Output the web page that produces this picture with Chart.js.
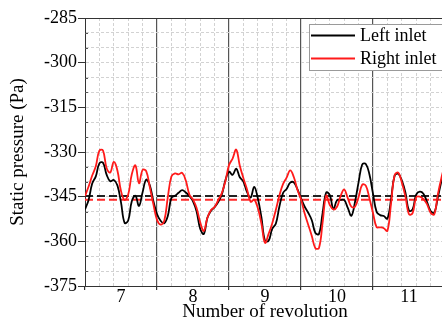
<!DOCTYPE html>
<html>
<head>
<meta charset="utf-8">
<script src="https://cdn.jsdelivr.net/npm/chart.js@4.4.1/dist/chart.umd.min.js"></script>
<style>
  html, body { margin: 0; padding: 0; background: #fff; overflow: hidden; }
  #wrap { width: 447px; height: 324px; }
</style>
</head>
<body>
<div id="wrap"><canvas id="c" width="447" height="324"></canvas></div>
<script>
// Static pressure at the two inlets, sampled every 0.05 revolution (6.5 .. 11.5)
const revolutions = Array.from({ length: 101 }, (_, i) => +(6.5 + 0.05 * i).toFixed(2));

const leftInlet = [
  -349.3, -346.1, -340.6, -338.2, -333.8, -333.6, -337.6, -339.8, -339.4, -341.2,
  -346.9, -353.8, -353.0, -346.5, -344.7, -348.1, -343.5, -339.3, -341.2, -346.5,
  -350.8, -353.1, -353.9, -351.5, -345.4, -344.7, -343.7, -342.8, -343.6, -344.8,
  -346.6, -350.0, -355.8, -357.5, -352.1, -349.7, -348.5, -346.8, -344.3, -339.5,
  -336.6, -337.7, -335.6, -338.5, -339.9, -343.4, -345.3, -341.7, -345.5, -351.9,
  -359.8, -359.8, -355.8, -354.1, -348.3, -343.8, -342.4, -340.3, -340.2, -342.5,
  -345.6, -348.3, -350.4, -352.9, -357.2, -357.5, -350.5, -343.6, -344.5, -349.2,
  -346.2, -346.1, -346.1, -348.8, -351.4, -346.8, -340.1, -334.2, -334.0, -337.5,
  -344.0, -350.1, -351.2, -351.5, -352.4, -346.0, -338.0, -337.3, -339.5, -343.6,
  -349.7, -349.3, -344.3, -343.3, -344.0, -346.7, -349.8, -350.4, -345.3, -339.8,
  -335.0
];

const rightInlet = [
  -344.8, -341.6, -337.9, -334.8, -329.5, -329.5, -335.4, -336.9, -333.3, -336.2,
  -343.1, -346.1, -344.3, -337.5, -334.5, -340.5, -336.0, -336.4, -341.8, -347.6,
  -352.8, -354.4, -353.2, -345.2, -338.2, -337.2, -337.5, -337.0, -339.6, -344.3,
  -346.0, -348.8, -353.6, -356.5, -352.1, -349.5, -348.5, -346.2, -343.8, -339.8,
  -334.4, -332.2, -329.2, -334.6, -338.8, -342.5, -346.7, -346.0, -348.8, -354.0,
  -360.5, -357.5, -354.0, -349.5, -344.6, -340.8, -338.6, -336.2, -338.4, -342.7,
  -345.9, -350.6, -354.4, -358.2, -362.3, -362.2, -353.7, -344.6, -347.8, -349.3,
  -348.4, -344.8, -342.6, -345.5, -348.4, -348.4, -345.1, -341.0, -341.3, -345.5,
  -350.5, -355.2, -355.3, -355.6, -356.5, -347.4, -337.8, -336.9, -340.2, -344.9,
  -350.9, -350.5, -345.2, -345.0, -345.8, -347.5, -350.4, -351.0, -344.3, -338.7,
  -334.0
];

// Time-averaged pressure of each inlet
const leftMean = -344.8;
const rightMean = -346.0;

const revolutionLabels = ['7', '8', '9', '10', '11'];
const pressureTicks = [-375, -360, -345, -330, -315, -300, -285];

const X_MIN = 6.5, X_MAX = 11.5, Y_MIN = -375, Y_MAX = -285;
const SERIF = "'Liberation Serif', 'Times New Roman', serif";
const AXIS = '#333333';
const GRID = '#d2d2d2';
const NONE = 'rgba(0,0,0,0)';

const toPoints = (ys) => revolutions.map((x, i) => ({ x, y: ys[i] }));
const flat = (y) => [{ x: X_MIN, y }, { x: X_MAX, y }];

// Frame, minor inward y ticks and the boxed legend
const decorations = {
  id: 'decorations',
  afterDraw(chart) {
    const { ctx, chartArea: a, scales } = chart;
    const ys = scales.y;
    ctx.save();
    ctx.strokeStyle = AXIS;
    ctx.lineWidth = 1;
    ctx.beginPath();
    ctx.moveTo(a.left, a.top + 0.5);
    ctx.lineTo(a.right, a.top + 0.5);
    ctx.moveTo(a.right - 0.5, a.top);
    ctx.lineTo(a.right - 0.5, a.bottom);
    ctx.stroke();

    // short inward marks at the unlabelled 5 Pa steps
    ctx.strokeStyle = '#555555';
    ctx.beginPath();
    for (let v = Y_MIN + 5; v < Y_MAX; v += 5) {
      if (pressureTicks.includes(v)) continue;
      const py = Math.round(ys.getPixelForValue(v)) + 0.5;
      ctx.moveTo(a.left, py);
      ctx.lineTo(a.left + 3, py);
    }
    ctx.stroke();

    // legend
    const bx = 309.5, by = 24.5, bw = 135, bh = 46;
    ctx.fillStyle = '#ffffff';
    ctx.fillRect(bx, by, bw, bh);
    ctx.strokeStyle = '#9a9a9a';
    ctx.lineWidth = 1;
    ctx.strokeRect(bx, by, bw, bh);
    ctx.font = '18px ' + SERIF;
    ctx.textBaseline = 'middle';
    ctx.textAlign = 'left';
    [0, 1].forEach((di, row) => {
      const ds = chart.data.datasets[di];
      const ly = 35.5 + row * 23;
      ctx.strokeStyle = ds.borderColor;
      ctx.lineWidth = 1.8;
      ctx.beginPath();
      ctx.moveTo(311, ly);
      ctx.lineTo(355, ly);
      ctx.stroke();
      ctx.fillStyle = '#000';
      ctx.fillText(ds.label, 360, ly + 1);
    });
    ctx.restore();
  }
};

new Chart(document.getElementById('c'), {
  type: 'line',
  data: {
    datasets: [
      { label: 'Left inlet', data: toPoints(leftInlet), borderColor: '#000000',
        borderWidth: 1.8, pointRadius: 0, tension: 0.4, order: 1 },
      { label: 'Right inlet', data: toPoints(rightInlet), borderColor: '#ff1a1a',
        borderWidth: 1.8, pointRadius: 0, tension: 0.4, order: 0 },
      { label: 'Left mean', data: flat(leftMean), borderColor: '#222222',
        borderWidth: 2, borderDash: [8, 4], pointRadius: 0, order: 2 },
      { label: 'Right mean', data: flat(rightMean), borderColor: '#ff2a2a',
        borderWidth: 2, borderDash: [8, 4], pointRadius: 0, order: 2 }
    ]
  },
  options: {
    responsive: false,
    animation: false,
    layout: { padding: { top: 18, right: 2, left: 0, bottom: 0 } },
    plugins: { legend: { display: false }, tooltip: { enabled: false } },
    scales: {
      x: {
        type: 'linear',
        min: X_MIN,
        max: X_MAX,
        afterBuildTicks(scale) {
          const t = [];
          for (let n = 65; n <= 115; n++) t.push({ value: n / 10 });
          scale.ticks = t;
        },
        afterFit(scale) { scale.height = 38; },
        ticks: {
          autoSkip: false,
          maxRotation: 0,
          padding: -2,
          color: '#000',
          font: { family: SERIF, size: 18, lineHeight: 1 },
          callback(v) {
            const n = Math.round(v * 10);
            if (n % 10 !== 0) return '';
            return revolutionLabels[n / 10 - 7] ?? '';
          }
        },
        grid: {
          lineWidth(c) {
            if (!c.tick) return 1;
            return Math.round(c.tick.value * 10) % 10 === 5 ? 1.2 : 1;
          },
          tickLength: 4,
          color(c) {
            if (!c.tick) return NONE;
            const n = Math.round(c.tick.value * 10);
            if (n === 65 || n === 115) return NONE;
            if (n % 10 === 5) return '#555555';
            return n % 2 === 1 ? GRID : NONE;
          },
          tickColor(c) {
            if (!c.tick) return NONE;
            const n = Math.round(c.tick.value * 10);
            return n % 10 === 5 ? AXIS : NONE;
          }
        },
        border: {
          color: AXIS,
          width: 1,
          dash(c) {
            if (!c.tick) return [];
            const n = Math.round(c.tick.value * 10);
            return n % 10 === 5 ? [] : [3, 2];
          }
        },
        title: {
          display: true,
          text: 'Number of revolution',
          color: '#000',
          font: { family: SERIF, size: 19, lineHeight: 1 },
          padding: { top: 0, bottom: 2.5 }
        }
      },
      y: {
        min: Y_MIN,
        max: Y_MAX,
        afterFit(scale) { scale.width = 85; },
        ticks: {
          stepSize: 5,
          autoSkip: false,
          padding: 1,
          color: '#000',
          font: { family: SERIF, size: 18, lineHeight: 1 },
          callback(v) { return pressureTicks.includes(v) ? String(v) : ''; }
        },
        grid: {
          lineWidth: 1,
          tickLength: 7,
          color(c) {
            if (!c.tick) return NONE;
            const v = c.tick.value;
            return v > Y_MIN && v < Y_MAX ? GRID : NONE;
          },
          tickColor(c) {
            if (!c.tick) return NONE;
            return pressureTicks.includes(c.tick.value) ? AXIS : NONE;
          }
        },
        border: {
          color: AXIS,
          width: 1,
          dash(c) { return c.tick ? [3, 2] : []; }
        },
        title: {
          display: true,
          text: 'Static pressure (Pa)',
          color: '#000',
          font: { family: SERIF, size: 19, lineHeight: 1 },
          padding: { top: 9, bottom: 0 }
        }
      }
    }
  },
  plugins: [decorations]
});
</script>
</body>
</html>
